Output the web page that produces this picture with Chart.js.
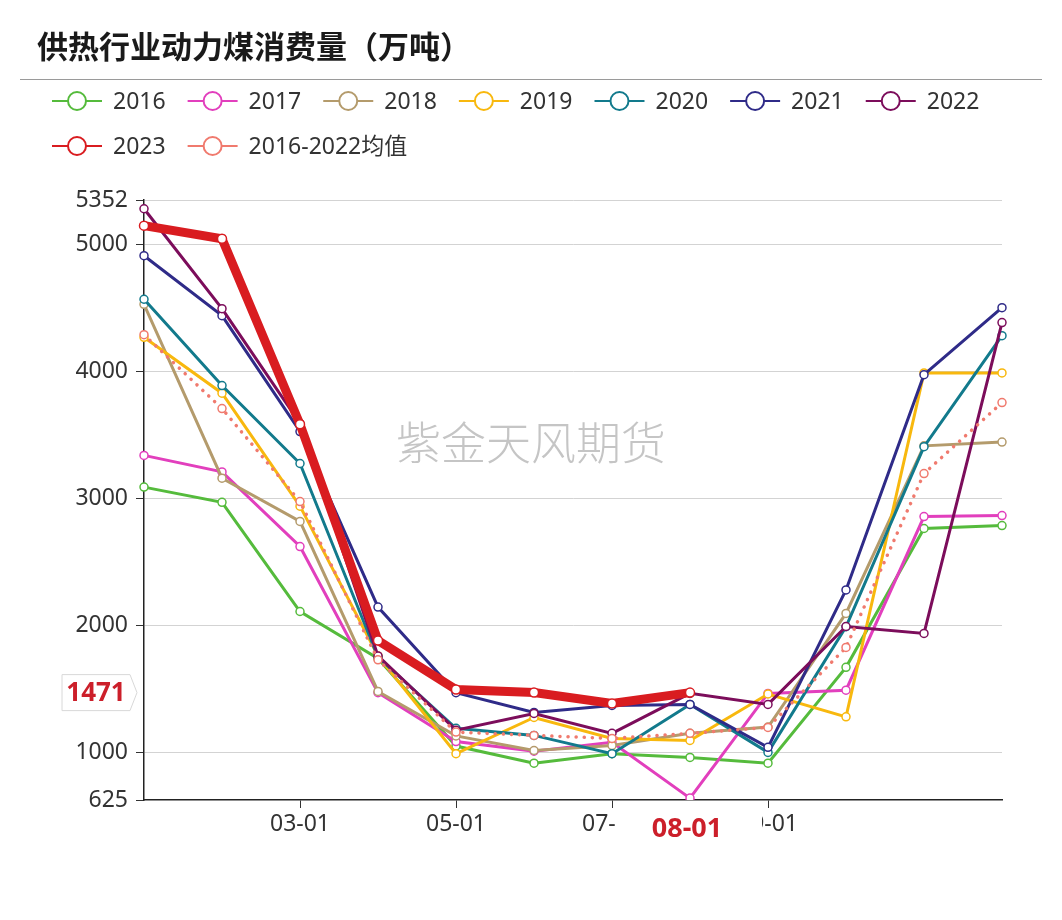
<!DOCTYPE html>
<html>
<head>
<meta charset="utf-8">
<script src="https://cdn.jsdelivr.net/npm/chart.js@4.4.1/dist/chart.umd.min.js"></script>
<style>
body{margin:0;background:#fff}
</style>
</head>
<body>
<canvas id="chart1" width="1062" height="920"></canvas>
<script>
const months = ["01-01","02-01","03-01","04-01","05-01","06-01","07-01","08-01","09-01","10-01","11-01","12-01"]
const shownTicks = ["03-01","05-01","07-01","09-01"]
const yTicks = [625,1000,2000,3000,4000,5000,5352]

const y2016 = [3090,2970,2110,1740,1050,915,990,960,915,1670,2764,2787]
const y2017 = [3340,3210,2622,1470,1085,1010,1080,640,1465,1490,2858,2866]
const y2018 = [4530,3160,2820,1480,1130,1015,1055,1150,1200,2095,3415,3445]
const y2019 = [4270,3830,2940,1760,990,1275,1110,1094,1460,1280,3990,3990]
const y2020 = [4570,3890,3276,1750,1190,1134,990,1378,1000,1990,3409,4283]
const y2021 = [4913,4441,3528,2145,1470,1315,1370,1378,1040,2280,3976,4504]
const y2022 = [5283,4496,3591,1760,1175,1307,1150,1465,1378,1992,1937,4386]
const y2023 = [5150,5047,3585,1882,1496,1472,1386,1471,null,null,null,null]
const yAvg  = [4291,3709,2976,1729,1160,1134,1110,1150,1197,1827,3197,3756]

const pointerIndex = 7   // 08-01
const FONT = "'Noto Sans', 'Noto Sans CJK SC', sans-serif"

function lineSet(label, data, color, i){
  return {label:label, data:data, borderColor:color, borderWidth:3, tension:0, fill:false,
    pointRadius:4, pointBorderWidth:1.5, pointBackgroundColor:'#fff', pointBorderColor:color,
    order:-i}
}

const datasets = [
  lineSet("2016", y2016, "#55bb3c", 0),
  lineSet("2017", y2017, "#e23fbd", 1),
  lineSet("2018", y2018, "#b49b6c", 2),
  lineSet("2019", y2019, "#f8b80e", 3),
  lineSet("2020", y2020, "#127a8c", 4),
  lineSet("2021", y2021, "#2f2b88", 5),
  lineSet("2022", y2022, "#7c0d5b", 6),
  lineSet("2023", y2023, "#d91c20", 7),
  lineSet("2016-2022均值", yAvg, "#f07a6e", 8)
]
datasets[7].borderWidth = 9
datasets[7].pointRadius = 4.5
datasets[7].order = -100
datasets[8].borderWidth = 3.5
datasets[8].borderDash = [0.1, 8]
datasets[8].borderCapStyle = 'round'

// title, legend, watermark and the axis pointer labels
const decor = {
  id:'decor',
  beforeDatasetsDraw(chart){
    const ctx = chart.ctx
    ctx.save()
    ctx.font = "300 45px 'Noto Sans CJK SC'"
    ctx.fillStyle = "rgba(150,150,150,0.55)"
    ctx.textAlign = 'center'
    ctx.textBaseline = 'middle'
    ctx.fillText("紫金天风期货", 531, 443)
    ctx.restore()
  },
  afterDraw(chart){
    const ctx = chart.ctx
    ctx.save()
    ctx.fillStyle = '#1a1a1a'
    ctx.font = "bold 31px 'Noto Sans CJK SC'"
    ctx.textBaseline = 'middle'
    ctx.fillText("供热行业动力煤消费量（万吨）", 37, 46)
    ctx.strokeStyle = '#9a9a9a'
    ctx.lineWidth = 1
    ctx.beginPath(); ctx.moveTo(20, 79.5); ctx.lineTo(1042, 79.5); ctx.stroke()

    // legend
    ctx.font = "23px " + FONT
    let x = 52, y = 101
    chart.data.datasets.forEach((d, i) => {
      if (i === 7) { x = 52; y = 146 }
      ctx.strokeStyle = d.borderColor
      ctx.lineWidth = 2
      ctx.beginPath(); ctx.moveTo(x, y); ctx.lineTo(x + 50, y); ctx.stroke()
      ctx.fillStyle = '#fff'
      ctx.beginPath(); ctx.arc(x + 25, y, 9, 0, Math.PI * 2); ctx.fill(); ctx.stroke()
      ctx.fillStyle = '#333'
      ctx.fillText(d.label, x + 61, y + 1)
      x += 61 + ctx.measureText(d.label).width + 22
    })

    // axis pointer labels
    const xs = chart.scales.x, ys = chart.scales.y
    const v = y2023[pointerIndex]
    const py = ys.getPixelForValue(v)
    ctx.fillStyle = '#fff'
    ctx.strokeStyle = '#d8d8d8'
    ctx.lineWidth = 1
    ctx.beginPath()
    ctx.moveTo(62, py - 18); ctx.lineTo(130, py - 18); ctx.lineTo(137, py)
    ctx.lineTo(130, py + 18); ctx.lineTo(62, py + 18); ctx.closePath()
    ctx.fill(); ctx.stroke()
    ctx.fillStyle = '#cc1f2a'
    ctx.font = "bold 26px " + FONT
    ctx.textAlign = 'center'
    ctx.fillText(String(v), 96, py + 1)

    const px = xs.getPixelForValue(pointerIndex)
    ctx.fillStyle = '#fff'
    ctx.fillRect(px - 74, 810, 146, 38)
    ctx.fillStyle = '#cc1f2a'
    ctx.font = "bold 27px " + FONT
    ctx.fillText(months[pointerIndex], px - 3, 829)
    ctx.restore()
  }
}

new Chart(document.getElementById("chart1"), {
  type:'line',
  data:{labels:months, datasets:datasets},
  options:{
    responsive:false,
    animation:false,
    events:[],
    layout:{padding:{top:200, left:0, right:60, bottom:80}},
    plugins:{legend:{display:false}, title:{display:false}, tooltip:{enabled:false}},
    scales:{
      x:{
        offset:false,
        ticks:{autoSkip:false, maxRotation:0, padding:3, color:'#333', font:{size:23, family:FONT},
          callback:function(val, i){ return shownTicks.includes(months[i]) ? months[i] : '' }},
        grid:{drawOnChartArea:false, tickLength:8,
          tickColor: c => shownTicks.includes(months[c.index]) ? '#333' : 'rgba(0,0,0,0)'},
        border:{color:'#222', width:1.5},
        afterFit: s => { s.height = 40 }
      },
      y:{
        min:625, max:5352,
        afterBuildTicks: s => { s.ticks = yTicks.map(v => ({value:v})) },
        ticks:{padding:8, color:'#333', font:{size:23, family:FONT}, callback: v => String(v)},
        grid:{color: c => (c.tick && c.tick.value === 625) ? 'rgba(0,0,0,0)' : '#d3d3d3', tickColor:'#333', tickLength:8},
        border:{color:'#222', width:1.5},
        afterFit: s => { s.width = 144 }
      }
    }
  },
  plugins:[decor]
})
</script>
</body>
</html>
